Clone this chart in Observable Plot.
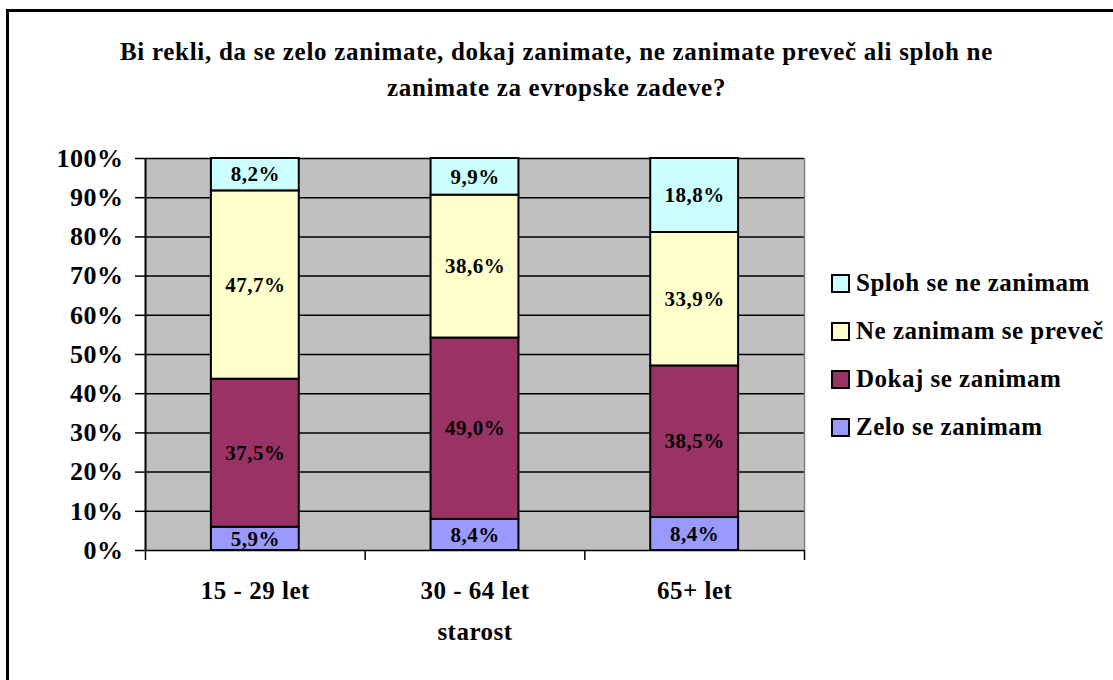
<!DOCTYPE html>
<html><head><meta charset="utf-8">
<script src="https://cdn.jsdelivr.net/npm/d3@7"></script>
<script src="https://cdn.jsdelivr.net/npm/@observablehq/plot@0.6"></script>
<style>
body{margin:0;background:#fff;}
#wrap{position:relative;width:1113px;height:680px;overflow:hidden;font-family:"Liberation Serif","Times New Roman",serif;font-weight:bold;color:#000;}
#frame{position:absolute;left:6px;top:9px;width:1200px;height:800px;border-left:3px solid #000;border-top:3px solid #000;}
#title{position:absolute;left:0;top:34px;width:1113px;text-align:center;font-size:25px;line-height:36px;letter-spacing:0.7px;}
#legend{position:absolute;left:831px;top:259px;}
.item{display:flex;align-items:center;height:48px;font-size:25px;letter-spacing:0.5px;}
.sw{width:15px;height:15px;border:2px solid #000;margin-right:6px;flex:none;}
#chart{position:absolute;left:0;top:0;}
#chart svg text{letter-spacing:0.5px;}
</style></head>
<body>
<div id="wrap">
  <div id="frame"></div>
  <div id="chart"></div>
  <div id="title">Bi rekli, da se zelo zanimate, dokaj zanimate, ne zanimate preveč ali sploh ne<br>zanimate za evropske zadeve?</div>
  <div id="legend"></div>
</div>
<script>
const categories = ["15 - 29 let", "30 - 64 let", "65+ let"];
const series = ["Zelo se zanimam", "Dokaj se zanimam", "Ne zanimam se preveč", "Sploh se ne zanimam"];
const colors = ["#9999FF", "#993366", "#FFFFCC", "#CCFFFF"];
const zelo = [5.9, 8.4, 8.4];
const dokaj = [37.5, 49.0, 38.5];
const nePrevec = [47.7, 38.6, 33.9];
const sploh = [8.2, 9.9, 18.8];
const yTicks = [0, 0.1, 0.2, 0.3, 0.4, 0.5, 0.6, 0.7, 0.8, 0.9, 1.0];
const xBounds = [0, 1, 2, 3];

const seriesValues = [zelo, dokaj, nePrevec, sploh];
const data = [];
categories.forEach((c, i) => {
  series.forEach((s, k) => data.push({i, category: c, series: s, value: seriesValues[k][i]}));
});
const fmt = v => v.toFixed(1).replace(".", ",") + "%";

const chart = Plot.plot({
  width: 1113, height: 680,
  marginLeft: 145, marginRight: 309, marginTop: 158, marginBottom: 130,
  style: {fontFamily: "'Liberation Serif', 'Times New Roman', serif", fontWeight: "bold", background: "transparent", color: "#000", overflow: "visible"},
  x: {type: "linear", domain: [0, 3], axis: null, label: null},
  y: {domain: [0, 1], axis: null, label: null},
  color: {domain: series, range: colors},
  marks: [
    Plot.frame({fill: "#C0C0C0", stroke: null}),
    Plot.ruleY(yTicks, {stroke: "#000", strokeWidth: 1.5}),
    Plot.ruleX([3], {stroke: "#808080", strokeWidth: 1.5}),
    Plot.rectY(data, Plot.stackY({x1: d => d.i + 0.3, x2: d => d.i + 0.7, y: "value", fill: "series", offset: "normalize", stroke: "#000", strokeWidth: 2})),
    Plot.text(data, Plot.stackY({x: d => d.i + 0.5, y: "value", text: d => fmt(d.value), offset: "normalize", fontSize: 21, fill: "#000"})),
    Plot.axisY({ticks: yTicks, tickFormat: d => Math.round(d * 100) + "%", tickSize: 10, tickPadding: 12, fontSize: 26, strokeWidth: 1.5, label: null}),
    Plot.ruleX([0], {stroke: "#000", strokeWidth: 2}),
    Plot.axisX({ticks: xBounds, tickFormat: () => "", tickSize: 10, strokeWidth: 1.5, label: null}),
    Plot.axisX({ticks: [0.5, 1.5, 2.5], tickFormat: d => categories[Math.floor(d)], tickSize: 0, tickPadding: 31, fontSize: 25, label: null}),
    Plot.text(["starost"], {x: 1.5, frameAnchor: "bottom", dy: 89, fontSize: 25, fill: "#000"})
  ]
});
document.getElementById("chart").appendChild(chart);

const legend = document.getElementById("legend");
[...series].reverse().forEach(s => {
  const item = document.createElement("div");
  item.className = "item";
  const sw = document.createElement("div");
  sw.className = "sw";
  sw.style.background = colors[series.indexOf(s)];
  const t = document.createElement("span");
  t.textContent = s;
  item.appendChild(sw); item.appendChild(t);
  legend.appendChild(item);
});
</script>
</body></html>
